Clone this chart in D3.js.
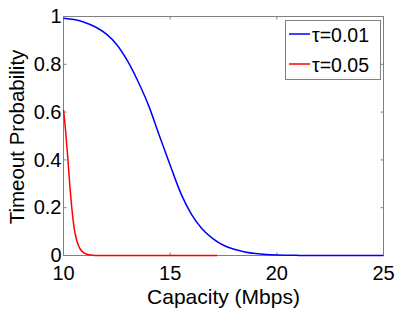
<!DOCTYPE html>
<html>
<head>
<meta charset="utf-8">
<script src="https://cdn.jsdelivr.net/npm/d3@7"></script>
<style>
  body { margin: 0; background: #fff; }
  svg { display: block; font-family: "Liberation Sans", Arial, sans-serif; }
</style>
</head>
<body>
<div id="chart"></div>
<script>
// values
const capacity1 = [10, 10.5, 11, 11.5, 12, 12.5, 13, 13.5, 14, 14.5, 15, 15.5, 16, 16.5, 17, 17.5, 18, 18.5, 19, 19.5, 20, 21, 22, 23, 25];
const prob1 = [0.993, 0.987, 0.975, 0.956, 0.927, 0.882, 0.814, 0.727, 0.625, 0.5, 0.378, 0.26, 0.172, 0.111, 0.071, 0.043, 0.026, 0.015, 0.008, 0.004, 0.002, 0.0005, 0.0001, 0, 0];
const capacity2 = [10, 10.1, 10.2, 10.3, 10.4, 10.5, 10.6, 10.7, 10.8, 10.9, 11, 11.2, 11.5, 12, 13, 14, 15, 16, 17.2];
const prob2 = [0.61, 0.52, 0.41, 0.29, 0.19, 0.115, 0.07, 0.042, 0.025, 0.015, 0.009, 0.003, 0.0005, 0, 0, 0, 0, 0, 0];
const seriesNames = ["τ=0.01", "τ=0.05"];
const seriesColors = ["#0000ff", "#ff0000"];
const xTicks = [10, 15, 20, 25];
const yTicks = [0, 0.2, 0.4, 0.6, 0.8, 1];

const width = 399, height = 311;
const margin = { left: 63.5, right: 15.5, top: 16.5, bottom: 55.5 };

const svg = d3.select("#chart").append("svg")
  .attr("width", width).attr("height", height);

const x = d3.scaleLinear().domain([10, 25]).range([margin.left, width - margin.right]);
const y = d3.scaleLinear().domain([0, 1]).range([height - margin.bottom, margin.top]);

const axisColor = "#808080";

// box
svg.append("rect")
  .attr("x", x(10)).attr("y", y(1))
  .attr("width", x(25) - x(10)).attr("height", y(0) - y(1))
  .attr("fill", "none").attr("stroke", axisColor).attr("stroke-width", 1);

// inward ticks
const tickLen = 3;
xTicks.forEach((t) => {
  svg.append("line").attr("x1", x(t)).attr("x2", x(t))
    .attr("y1", y(0)).attr("y2", y(0) - tickLen).attr("stroke", axisColor);
  svg.append("line").attr("x1", x(t)).attr("x2", x(t))
    .attr("y1", y(1)).attr("y2", y(1) + tickLen).attr("stroke", axisColor);
});
yTicks.forEach((t) => {
  svg.append("line").attr("x1", x(10)).attr("x2", x(10) + tickLen)
    .attr("y1", y(t)).attr("y2", y(t)).attr("stroke", axisColor);
  svg.append("line").attr("x1", x(25)).attr("x2", x(25) - tickLen)
    .attr("y1", y(t)).attr("y2", y(t)).attr("stroke", axisColor);
});

// tick labels
svg.selectAll("text.xt").data(xTicks).enter().append("text")
  .attr("class", "xt")
  .attr("x", (d) => x(d)).attr("y", y(0) + 24.5)
  .attr("text-anchor", "middle").attr("font-size", "20px").attr("fill", "#000")
  .text((d) => d);

svg.selectAll("text.yt").data(yTicks).enter().append("text")
  .attr("class", "yt")
  .attr("x", x(10) - 2).attr("y", (d) => y(d))
  .attr("dy", "0.33em")
  .attr("text-anchor", "end").attr("font-size", "20px").attr("fill", "#000")
  .text((d) => d3.format("~g")(d));

// axis titles
svg.append("text")
  .attr("x", (x(10) + x(25)) / 2).attr("y", 304)
  .attr("text-anchor", "middle").attr("font-size", "21px")
  .text("Capacity (Mbps)");

svg.append("text")
  .attr("transform", `translate(24, ${(y(0) + y(1)) / 2 + 1}) rotate(-90)`)
  .attr("text-anchor", "middle").attr("font-size", "20.5px")
  .text("Timeout Probability");

// lines
const line = d3.line().x((d) => x(d[0])).y((d) => y(d[1])).curve(d3.curveMonotoneX);
const series = [d3.zip(capacity1, prob1), d3.zip(capacity2, prob2)];

svg.selectAll("path.series").data(series).enter().append("path")
  .attr("class", "series")
  .attr("d", line)
  .attr("fill", "none")
  .attr("stroke", (d, i) => seriesColors[i])
  .attr("stroke-width", 1.5);

// legend
const legend = svg.append("g");
legend.append("rect")
  .attr("x", 285.5).attr("y", 20.5).attr("width", 95).attr("height", 59)
  .attr("fill", "#fff").attr("stroke", axisColor);
seriesNames.forEach((name, i) => {
  const ly = 34 + i * 30;
  legend.append("line")
    .attr("x1", 289).attr("x2", 310).attr("y1", ly).attr("y2", ly)
    .attr("stroke", seriesColors[i]).attr("stroke-width", 1.5);
  legend.append("text")
    .attr("x", 312).attr("y", ly + 7.5)
    .attr("font-size", "19.5px")
    .text(name);
});
</script>
</body>
</html>
